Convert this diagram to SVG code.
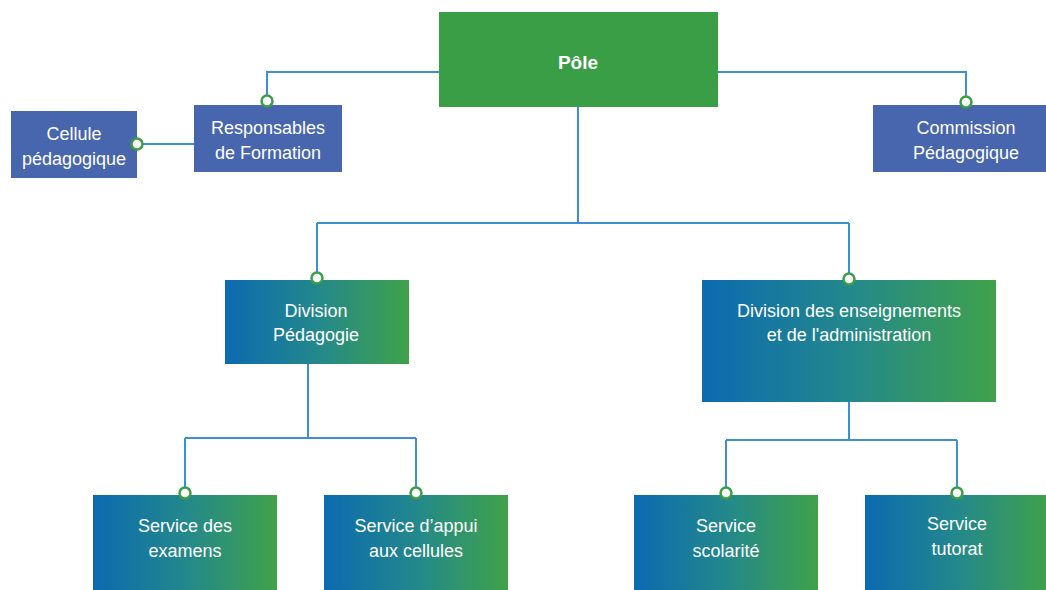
<svg xmlns="http://www.w3.org/2000/svg" width="1046" height="590" viewBox="0 0 1046 590">
<defs>
<linearGradient id="grad" x1="0" y1="0" x2="1" y2="0">
<stop offset="0" stop-color="#0c6ab0"/>
<stop offset="0.5" stop-color="#23888c"/>
<stop offset="1" stop-color="#40a24a"/>
</linearGradient>
<style>
.blue{fill:#4766ad}
.green{fill:#3a9e47}
.grad{fill:url(#grad)}
.t{font-family:"Liberation Sans Narrow","Liberation Sans",sans-serif;font-size:18px;fill:#ffffff;text-anchor:middle}
.b{font-weight:bold;font-size:19px}
.ln{fill:none;stroke:#3d8fd2;stroke-width:2}
.dot{fill:#ffffff;stroke:#3a9e47;stroke-width:2.5}
</style>
</defs>
<rect width="1046" height="590" fill="#ffffff"/>
<g id="connectors">
<path class="ln" d="M439 72 H267 V101"/>
<path class="ln" d="M137 144 H194"/>
<path class="ln" d="M718 72 H966 V102"/>
<path class="ln" d="M578 107 V223 M317 223 H849 M317 223 V278 M849 223 V279"/>
<path class="ln" d="M308 364 V438 M185 438 H416 M185 438 V493 M416 438 V493"/>
<path class="ln" d="M849 402 V440 M726 440 H957 M726 440 V493 M957 440 V493"/>
</g>
<g id="pole">
<rect class="green" x="439" y="12" width="279" height="95"/>
<text class="t b" x="578" y="69">Pôle</text>
</g>
<g id="responsables">
<rect class="blue" x="194" y="105" width="148" height="67"/>
<text class="t" x="268" y="134">Responsables</text>
<text class="t" x="268" y="159">de Formation</text>
<circle class="dot" cx="267" cy="101" r="5.5"/>
</g>
<g id="cellule">
<rect class="blue" x="11" y="111" width="126" height="67"/>
<text class="t" x="74" y="140">Cellule</text>
<text class="t" x="74" y="165">pédagogique</text>
<circle class="dot" cx="137" cy="144" r="5.5"/>
</g>
<g id="commission">
<rect class="blue" x="873" y="105" width="173" height="67"/>
<text class="t" x="966" y="134">Commission</text>
<text class="t" x="966" y="159">Pédagogique</text>
<circle class="dot" cx="966" cy="102" r="5.5"/>
</g>
<g id="div-pedagogie">
<rect class="grad" x="225" y="280" width="184" height="84"/>
<text class="t" x="316" y="317">Division</text>
<text class="t" x="316" y="341">Pédagogie</text>
<circle class="dot" cx="317" cy="278" r="5.5"/>
</g>
<g id="div-enseignements">
<rect class="grad" x="702" y="280" width="294" height="122"/>
<text class="t" x="849" y="317">Division des enseignements</text>
<text class="t" x="849" y="341">et de l'administration</text>
<circle class="dot" cx="849" cy="279" r="5.5"/>
</g>
<g id="service-examens">
<rect class="grad" x="93" y="495" width="184" height="100"/>
<text class="t" x="185" y="532">Service des</text>
<text class="t" x="185" y="557">examens</text>
<circle class="dot" cx="185" cy="493" r="5.5"/>
</g>
<g id="service-appui">
<rect class="grad" x="324" y="495" width="184" height="100"/>
<text class="t" x="416" y="532">Service d’appui</text>
<text class="t" x="416" y="557">aux cellules</text>
<circle class="dot" cx="416" cy="493" r="5.5"/>
</g>
<g id="service-scolarite">
<rect class="grad" x="634" y="495" width="184" height="100"/>
<text class="t" x="726" y="532">Service</text>
<text class="t" x="726" y="557">scolarité</text>
<circle class="dot" cx="726" cy="493" r="5.5"/>
</g>
<g id="service-tutorat">
<rect class="grad" x="865" y="495" width="184" height="100"/>
<text class="t" x="957" y="530">Service</text>
<text class="t" x="957" y="555">tutorat</text>
<circle class="dot" cx="957" cy="493" r="5.5"/>
</g>
</svg>
